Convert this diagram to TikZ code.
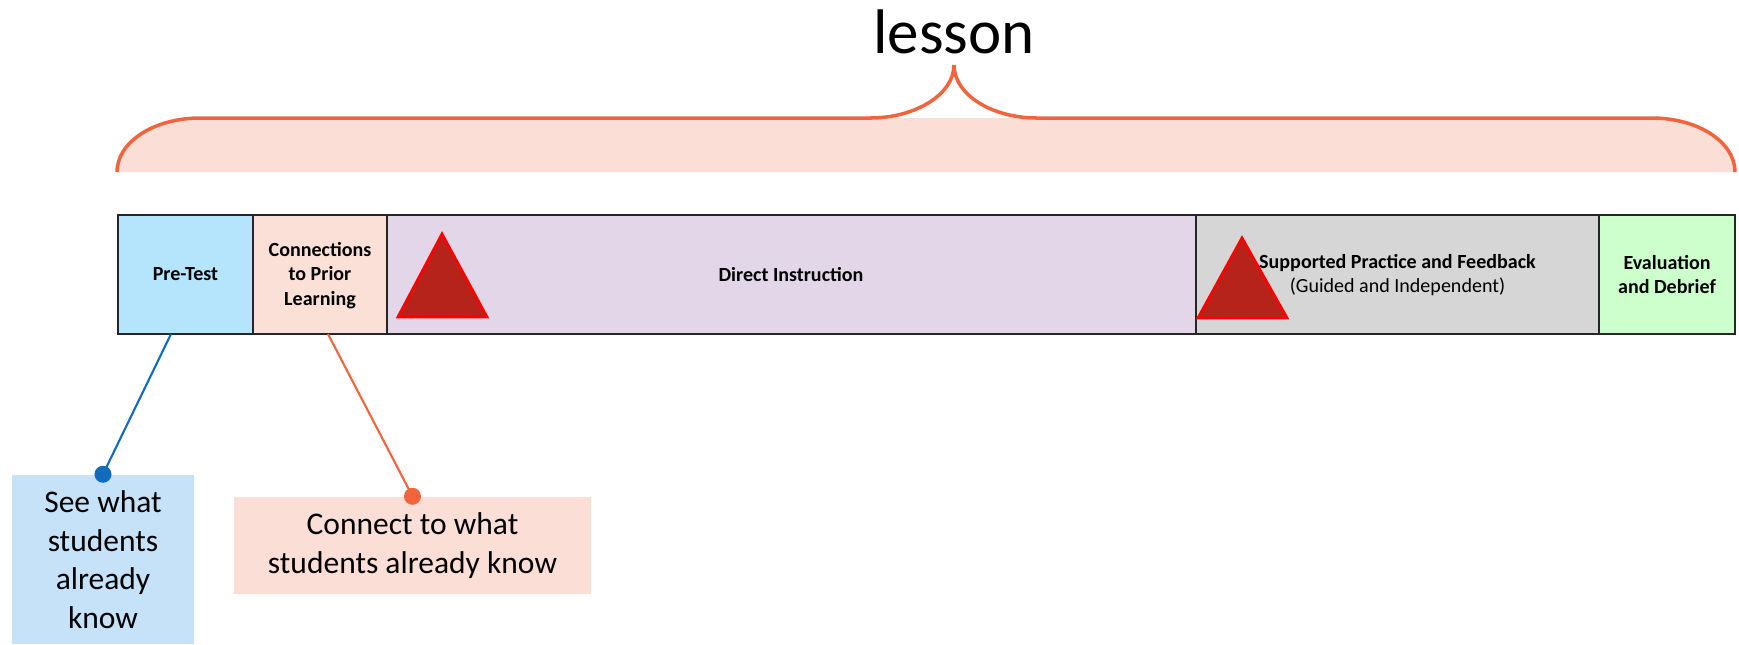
\documentclass[tikz,border=0pt]{standalone}
\usepackage{fontspec}
\setmainfont{Carlito}

\definecolor{bracered}{RGB}{242,100,60}
\definecolor{bracefill}{RGB}{251,223,215}
\definecolor{pretestblue}{RGB}{180,229,252}
\definecolor{priorpink}{RGB}{251,224,216}
\definecolor{directlilac}{RGB}{228,214,233}
\definecolor{practicegray}{RGB}{214,214,214}
\definecolor{debriefgreen}{RGB}{204,255,204}
\definecolor{knowblue}{RGB}{197,226,248}
\definecolor{linkblue}{RGB}{18,107,189}
\definecolor{warnred}{RGB}{181,35,26}

\begin{document}
\begin{tikzpicture}[x=0.01cm, y=-0.01cm,
  celltext/.style={font=\fontsize{5.7}{6.97}\selectfont\bfseries, align=center, inner sep=0pt},
  callout/.style={font=\fontsize{8.96}{10.95}\selectfont, align=center, inner sep=0pt},
  warn/.style={fill=warnred, draw=red, line width=0.8pt}]
\useasboundingbox (0,0) rectangle (1739,644);
%Brace
\fill[bracefill] (117,172) .. controls (117,142) and (154,118) .. (200,118) -- (1652,118) .. controls (1698,118) and (1735,142) .. (1735,172) -- cycle;
\draw[bracered, line width=1pt] (117,172) .. controls (117,142) and (154,118) .. (200,118) -- (870,118) .. controls (916,118) and (954,94) .. (954,65) .. controls (954,94) and (991,118) .. (1037,118) -- (1652,118) .. controls (1698,118) and (1735,142) .. (1735,172);
\node[font=\fontsize{17.9}{20}\selectfont, anchor=base, inner sep=0pt] (lesson) at (954,53) {lesson};
%Bar
\begin{scope}[draw=black!85, line width=0.6pt]
\filldraw[fill=pretestblue] (118,215) rectangle (253,334);
\filldraw[fill=priorpink] (253,215) rectangle (387,334);
\filldraw[fill=directlilac] (387,215) rectangle (1196,334);
\filldraw[fill=practicegray] (1196,215) rectangle (1599,334);
\filldraw[fill=debriefgreen] (1599,215) rectangle (1735,334);
\end{scope}
%Warnings
\filldraw[warn] (442,234) -- (487,317) -- (398,317) -- cycle;
\filldraw[warn] (1242,238) -- (1287,318) -- (1198,318) -- cycle;
%Labels
\node[celltext] (pretest) at (185.5,274.5) {Pre-Test};
\node[celltext] (prior) at (320,275.5) {Connections\\to Prior\\Learning};
\node[celltext] (direct) at (791,274.5) {Direct Instruction};
\node[celltext] (practice) at (1397.5,275) {Supported Practice and Feedback\\\mdseries(Guided and Independent)};
\node[celltext] (debrief) at (1667,274.5) {Evaluation\\and Debrief};
%Callouts
\node[callout, fill=knowblue, minimum width=1.82cm, minimum height=1.69cm] (seeknow) at (103,559.5) {See what\\students\\already\\know};
\node[callout, fill=bracefill, minimum width=3.57cm, minimum height=0.97cm] (connectknow) at (412.5,545.5) {Connect to what\\students already know};
\coordinate (pretestfoot) at (171,334);
\coordinate (priorfoot) at (328,334);
\draw[linkblue, line width=0.6pt] (pretestfoot) -- (seeknow.north);
\fill[linkblue] (seeknow.north) circle (0.085cm);
\draw[bracered, line width=0.6pt] (priorfoot) -- (connectknow.north);
\fill[bracered] (connectknow.north) circle (0.085cm);
\end{tikzpicture}
\end{document}
